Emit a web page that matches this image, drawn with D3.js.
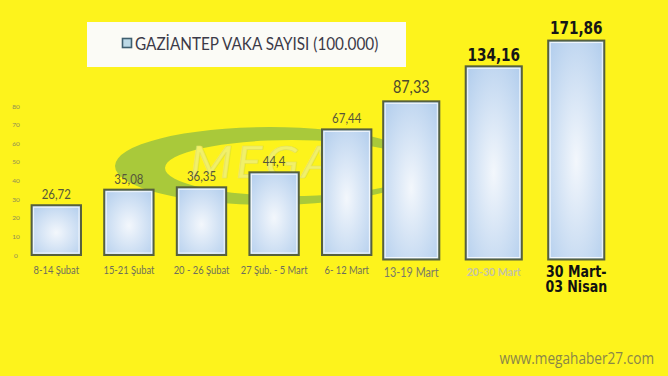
<!DOCTYPE html>
<html>
<head>
<meta charset="utf-8">
<script src="https://cdn.jsdelivr.net/npm/d3@7"></script>
<style>
  body { margin: 0; background: #fdf31c; }
  svg { display: block; }
</style>
</head>
<body>
<svg id="chart-svg"></svg>
<script>
// Data
const categories = ["8-14 Şubat", "15-21 Şubat", "20 - 26 Şubat", "27 Şub. - 5 Mart", "6- 12 Mart", "13-19 Mart", "20-30 Mart", "30 Mart-|03 Nisan"];
const values = [26.72, 35.08, 36.35, 44.4, 67.44, 87.33, 134.16, 171.86];
const yTicks = [0, 10, 20, 30, 40, 50, 60, 70, 80];
const legendLabel = "GAZİANTEP VAKA SAYISI (100.000)";
const siteLabel = "www.megahaber27.com";

// the first five bars are the original chart, the last three were pasted on
const nOriginal = 5;

const width = 668;
const height = 376;

const svg = d3.select("#chart-svg").attr("width", width).attr("height", height);

svg.append("rect").attr("width", width).attr("height", height).attr("fill", "#fdf31c");

// gradient for the bars
const defs = svg.append("defs");
const grad = defs.append("radialGradient").attr("id", "barGrad")
  .attr("cx", "50%").attr("cy", "55%").attr("r", "75%");
grad.append("stop").attr("offset", "0%").attr("stop-color", "#f3f7fc");
grad.append("stop").attr("offset", "100%").attr("stop-color", "#aecbec");

// logo watermark behind the bars
const logo = svg.append("g");
logo.append("path")
  .attr("d", `M ${270 + 155},166 A 155 39 0 1 0 ${270 - 155},166 A 155 39 0 1 0 ${270 + 155},166 Z
              M ${292 + 127},168 A 127 28 0 1 0 ${292 - 127},168 A 127 28 0 1 0 ${292 + 127},168 Z`)
  .attr("fill-rule", "evenodd")
  .attr("fill", "#a9c93a");
logo.append("text")
  .attr("transform", "translate(190,178) scale(1.1,1)")
  .attr("font-family", "Lato, sans-serif")
  .attr("font-style", "italic")
  .attr("font-size", 45)
  .attr("fill", "#f1f06a")
  .attr("stroke", "#e2e060")
  .attr("stroke-width", 0.6)
  .attr("letter-spacing", 3)
  .text("MEGA");

// legend box
svg.append("rect").attr("x", 87).attr("y", 22).attr("width", 319).attr("height", 45)
  .attr("fill", "#fbfbf6");
svg.append("rect").attr("x", 122.5).attr("y", 38.5).attr("width", 9).attr("height", 9)
  .attr("fill", "#bcd9e6").attr("stroke", "#3f5f6f").attr("stroke-width", 1.6);
svg.append("text")
  .attr("transform", "translate(135,50) scale(0.9,1)")
  .attr("font-family", "Lato, sans-serif").attr("font-size", 17)
  .attr("fill", "#3b3a48")
  .text(legendLabel);

// scales
const x1 = d3.scaleBand()
  .domain(categories.slice(0, nOriginal))
  .range([20, 383])
  .paddingInner(0.32).paddingOuter(0.16);

const x2 = d3.scaleBand()
  .domain(categories.slice(nOriginal))
  .range([370, 617.5])
  .paddingInner(0.32).paddingOuter(0.16);

const y1 = d3.scaleLinear().domain([0, 80]).range([255, 106]);
// pasted bars are squeezed to fit the picture
const y2 = d3.scaleLinear().domain([0, 90, 180]).range([259.5, 96.5, 35]);

const rows = categories.map((c, i) => ({
  name: c,
  value: values[i],
  x: i < nOriginal ? x1 : x2,
  y: i < nOriginal ? y1 : y2,
  i: i
}));

// y axis (labels only)
const yAxis = svg.append("g")
  .attr("transform", "translate(16,0)")
  .call(d3.axisLeft(y1).tickValues(yTicks).tickSize(0).tickPadding(0));
yAxis.select(".domain").remove();
yAxis.selectAll("text")
  .attr("text-anchor", "middle")
  .attr("font-family", "Lato, sans-serif")
  .attr("font-size", 6.5)
  .attr("fill", "#8c8c5a");

// bars
const bars = svg.append("g").selectAll(".bar")
  .data(rows)
  .enter()
  .append("g")
  .attr("class", "bar");

bars.append("rect")
  .attr("x", d => d.x(d.name))
  .attr("y", d => d.y(d.value))
  .attr("width", d => d.x.bandwidth())
  .attr("height", d => d.y(0) - d.y(d.value))
  .attr("fill", "url(#barGrad)")
  .attr("stroke", "#56603e")
  .attr("stroke-width", 2);

bars.append("rect")
  .attr("x", d => d.x(d.name) + 2)
  .attr("y", d => d.y(d.value) + 2)
  .attr("width", d => d.x.bandwidth() - 4)
  .attr("height", d => d.y(0) - d.y(d.value) - 4)
  .attr("fill", "none")
  .attr("stroke", "#ffffff")
  .attr("stroke-opacity", 0.8)
  .attr("stroke-width", 1);

// label styles: original chart, 13-19, 20-30, last bar (sx = horizontal squeeze)
const valueStyle = [
  { size: 13.5, weight: 400, family: "Lato, sans-serif", fill: "#56563a", gap: 6, sx: 0.85 },
  { size: 18, weight: 400, family: "Lato, sans-serif", fill: "#4d4b2c", gap: 8, sx: 0.8 },
  { size: 18, weight: 700, family: "'DejaVu Sans', sans-serif", fill: "#161616", gap: 5, sx: 0.76 },
  { size: 18, weight: 700, family: "'DejaVu Sans', sans-serif", fill: "#161616", gap: 7, sx: 0.76 }
];
const catStyle = [
  { size: 11, weight: 400, family: "Lato, sans-serif", fill: "#6e6e5c", base: 274, sx: 0.85, lead: 15 },
  { size: 13, weight: 400, family: "Lato, sans-serif", fill: "#7a7a6a", base: 277, sx: 0.83, lead: 15 },
  { size: 12, weight: 700, family: "Lato, sans-serif", fill: "#c4c2a6", base: 276, sx: 0.88, lead: 15 },
  { size: 15, weight: 700, family: "'DejaVu Sans', sans-serif", fill: "#111111", base: 277, sx: 0.84, lead: 15.5 }
];
const styleIndex = i => (i < nOriginal ? 0 : i - nOriginal + 1);
const cx = d => d.x(d.name) + d.x.bandwidth() / 2;

bars.append("text")
  .attr("transform", d => {
    const s = valueStyle[styleIndex(d.i)];
    return `translate(${cx(d)},${d.y(d.value) - s.gap}) scale(${s.sx},1)`;
  })
  .attr("text-anchor", "middle")
  .attr("font-family", d => valueStyle[styleIndex(d.i)].family)
  .attr("font-size", d => valueStyle[styleIndex(d.i)].size)
  .attr("font-weight", d => valueStyle[styleIndex(d.i)].weight)
  .attr("fill", d => valueStyle[styleIndex(d.i)].fill)
  .text(d => String(d.value).replace(".", ","));

const catText = bars.append("text")
  .attr("transform", d => {
    const s = catStyle[styleIndex(d.i)];
    return `translate(${cx(d)},${s.base}) scale(${s.sx},1)`;
  })
  .attr("text-anchor", "middle")
  .attr("font-family", d => catStyle[styleIndex(d.i)].family)
  .attr("font-size", d => catStyle[styleIndex(d.i)].size)
  .attr("font-weight", d => catStyle[styleIndex(d.i)].weight)
  .attr("fill", d => catStyle[styleIndex(d.i)].fill);

catText.selectAll("tspan")
  .data(d => d.name.split("|").map((t, k) => ({ t, k, lead: catStyle[styleIndex(d.i)].lead })))
  .enter()
  .append("tspan")
  .attr("x", 0)
  .attr("y", p => p.k * p.lead)
  .text(p => p.t);

// site watermark
svg.append("text")
  .attr("transform", "translate(654,364) scale(0.88,1)")
  .attr("text-anchor", "end")
  .attr("font-family", "'Open Sans', sans-serif")
  .attr("font-size", 15.5)
  .attr("fill", "#8a8648")
  .text(siteLabel);
</script>
</body>
</html>
